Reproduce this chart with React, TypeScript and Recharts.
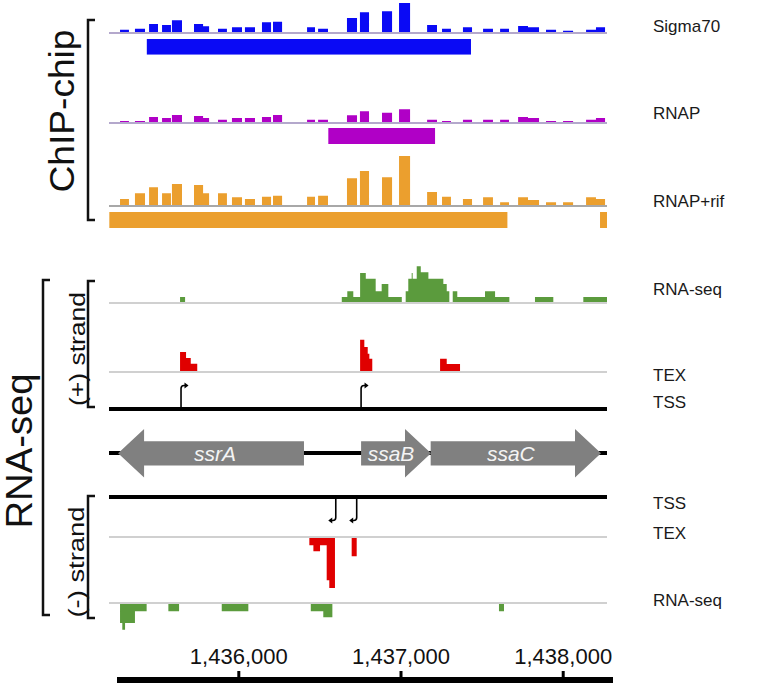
import React from 'react';
import {
  AreaChart,
  Area,
  XAxis,
  YAxis,
  ReferenceLine,
  ScatterChart,
  Scatter,
  BarChart,
  Bar,
  ComposedChart,
} from 'recharts';

const FONT = '"Liberation Sans", Arial, Helvetica, sans-serif';
const W = 757;
const H = 685;
const PLOT_LEFT = 109;
const PLOT_RIGHT = 607;
const VIEW: [number, number] = [1435200, 1438270];
const AXIS_LEFT = 117;
const AXIS_RIGHT = 613;
const AXIS_VIEW: [number, number] = [1435249, 1438307];

// ---- ChIP-chip probes (genomic start / end) ----
const probeStarts = [1435268, 1435360, 1435447, 1435527, 1435588, 1435724, 1435780, 1435872, 1435958, 1436038, 1436143, 1436211, 1436421, 1436489, 1436667, 1436747, 1436883, 1436988, 1437161, 1437253, 1437382, 1437506, 1437611, 1437722, 1437783, 1437894, 1437999, 1438141, 1438202];
const probeEnds = [1435323, 1435422, 1435502, 1435582, 1435650, 1435780, 1435817, 1435927, 1436020, 1436100, 1436199, 1436267, 1436470, 1436550, 1436729, 1436803, 1436945, 1437056, 1437222, 1437308, 1437438, 1437567, 1437666, 1437783, 1437851, 1437956, 1438061, 1438202, 1438258];
const sigma70Values = [3.3, 4.3, 9, 8, 12.7, 9, 6.7, 4.3, 5.7, 5.7, 10.7, 11.3, 5.7, 4.3, 15, 20.7, 21.7, 30, 8, 4.3, 5.7, 4.3, 4.3, 7, 5.7, 3.3, 2.3, 3.3, 5.7];
const rnapValues = [2, 2, 6, 5, 8, 7, 5, 3.3, 5, 5, 6, 8, 3.3, 3.3, 7.7, 11.7, 10.3, 13.7, 3.3, 2, 3.3, 3.3, 3.3, 6, 5, 2, 2, 3.3, 5];
const rnapRifValues = [7, 12.7, 18.7, 12.7, 22, 21, 12.7, 12.7, 8.7, 7, 9.3, 10.3, 9.3, 10.3, 27.7, 35, 28.7, 50, 14, 9.3, 7, 8.7, 3.7, 8.7, 6, 3.7, 3.7, 8.7, 7];

// ---- ChIP-chip enriched regions ----
const sigma70PeakStarts = [1435432];
const sigma70PeakEnds = [1437432];
const rnapPeakStarts = [1436552];
const rnapPeakEnds = [1437210];
const rnapRifPeakStarts = [1435202, 1438227];
const rnapRifPeakEnds = [1437656, 1438270];

// ---- RNA-seq coverage (breakpoints, value holds until next breakpoint) ----
const rnaPlusPos = [1435638, 1435669, 1436635, 1436669, 1436706, 1436748, 1436783, 1436844, 1436881, 1436922, 1437005, 1437029, 1437045, 1437066, 1437072, 1437097, 1437122, 1437169, 1437261, 1437282, 1437298, 1437319, 1437347, 1437518, 1437580, 1437668, 1437826, 1437939, 1438124, 1438270];
const rnaPlusVal = [6, 0, 6, 11.7, 6, 30, 24.3, 11.7, 19, 6, 0, 11.7, 24.3, 30, 24.3, 36.7, 30.7, 24.3, 19, 11.7, 0, 11.7, 6, 11.7, 6, 0, 6, 0, 6, 0];
const texPlusPos = [1435638, 1435675, 1435704, 1435744, 1436748, 1436774, 1436795, 1436805, 1436823, 1437241, 1437282, 1437364];
const texPlusVal = [20, 14, 8.3, 0, 32.3, 25, 18.3, 13.3, 0, 13.3, 8, 0];
const texMinusPos = [1436435, 1436460, 1436501, 1436542, 1436558, 1436593, 1436696, 1436727];
const texMinusVal = [-8.3, -14.3, -8.3, -43.3, -51, 0, -19.3, 0];
const rnaMinusPos = [1435268, 1435282, 1435299, 1435360, 1435432, 1435566, 1435632, 1435895, 1436059, 1436444, 1436521, 1436577, 1437604, 1437635];
const rnaMinusVal = [-20, -26.7, -20, -8.3, 0, -8.3, 0, -8.3, 0, -8.3, -14.3, 0, -8.3, 0];

// ---- TSS ----
const tssPlus = [1435644, 1436754];
const tssMinus = [1436598, 1436727];

// ---- Genes ----
const geneNames = ['ssrA', 'ssaB', 'ssaC'];
const geneStarts = [1435256, 1436754, 1437183];
const geneEnds = [1436402, 1437185, 1438233];
const geneStrands = ['-', '+', '+'];

// ---- Axis ----
const axisTicks = [1436000, 1437000, 1438000];

type Row = { x: number; y: number };

const stepRows = (pos: number[], val: number[]): Row[] => pos.map((p, i) => ({ x: p, y: val[i] }));

const probeRows = (values: number[]): Row[] => {
  const rows: Row[] = [];
  probeStarts.forEach((s, i) => {
    rows.push({ x: s, y: values[i] });
    const e = probeEnds[i];
    if (i === probeStarts.length - 1 || probeStarts[i + 1] !== e) rows.push({ x: e, y: 0 });
  });
  return rows;
};

const intervalRows = (starts: number[], ends: number[]): Row[] => {
  const rows: Row[] = [];
  starts.forEach((s, i) => {
    rows.push({ x: s, y: 1 });
    rows.push({ x: ends[i], y: 0 });
  });
  return rows;
};

const margin = { left: PLOT_LEFT, right: W - PLOT_RIGHT, top: 0, bottom: 0 };

function StepTrack(props: {
  rows: Row[];
  top: number;
  height: number;
  domain: [number, number];
  color: string;
  lineColor?: string;
  lineWidth?: number;
}) {
  const { rows, top, height, domain, color, lineColor, lineWidth = 2 } = props;
  return (
    <div style={{ position: 'absolute', left: 0, top, width: W, height }}>
      <AreaChart width={W} height={height} data={rows} margin={margin}>
        <XAxis dataKey="x" type="number" domain={VIEW} allowDataOverflow hide />
        <YAxis type="number" domain={domain} allowDataOverflow hide />
        {lineColor ? <ReferenceLine y={0} stroke={lineColor} strokeWidth={lineWidth} /> : null}
        <Area
          type="stepAfter"
          dataKey="y"
          stroke="none"
          fill={color}
          fillOpacity={1}
          baseValue={0}
          dot={false}
          activeDot={false}
          isAnimationActive={false}
        />
      </AreaChart>
    </div>
  );
}

// Baseline-anchored track: base pixel, extent above / below
const bt = (base: number, above: number, below: number) => ({
  top: base - above,
  height: above + below,
  domain: [-below, above] as [number, number],
});

const TssPlusMark = (p: any) => {
  const { cx, cy } = p;
  return (
    <g>
      <path d={`M${cx},${cy} V${cy - 20.5} Q${cx},${cy - 23.5} ${cx + 3},${cy - 23.5} H${cx + 4}`} stroke="#000" strokeWidth={1.6} fill="none" />
      <path d={`M${cx + 7.5},${cy - 23.5} L${cx + 3.5},${cy - 26.5} L${cx + 3.5},${cy - 20.5} Z`} fill="#000" />
    </g>
  );
};

const TssMinusMark = (p: any) => {
  const { cx, cy } = p;
  return (
    <g>
      <path d={`M${cx},${cy} V${cy + 20.5} Q${cx},${cy + 23.5} ${cx - 3},${cy + 23.5} H${cx - 4}`} stroke="#000" strokeWidth={1.6} fill="none" />
      <path d={`M${cx - 7.5},${cy + 23.5} L${cx - 3.5},${cy + 20.5} L${cx - 3.5},${cy + 26.5} Z`} fill="#000" />
    </g>
  );
};

function TssTrack(props: { positions: number[]; base: number; above: number; below: number; mark: any }) {
  const { positions, base, above, below, mark } = props;
  const g = bt(base, above, below);
  const rows = positions.map((x) => ({ x, y: 0 }));
  return (
    <div style={{ position: 'absolute', left: 0, top: g.top, width: W, height: g.height }}>
      <ScatterChart width={W} height={g.height} margin={margin}>
        <XAxis dataKey="x" type="number" domain={VIEW} allowDataOverflow hide />
        <YAxis dataKey="y" type="number" domain={g.domain} allowDataOverflow hide />
        <ReferenceLine y={0} stroke="#000" strokeWidth={4} />
        <Scatter data={rows} shape={mark} isAnimationActive={false} />
      </ScatterChart>
    </div>
  );
}

const GeneArrow = (p: any) => {
  const { x, y, width, height, payload } = p;
  const head = 26;
  const cy = y + height / 2;
  const bh = height / 4;
  let pts: number[][];
  let lx: number;
  if (payload.strand === '+') {
    const hb = x + width - head;
    pts = [[x, cy - bh], [hb, cy - bh], [hb, y], [x + width, cy], [hb, y + height], [hb, cy + bh], [x, cy + bh]];
    lx = x + width / 2 - 5;
  } else {
    const hb = x + head;
    pts = [[x + width, cy - bh], [hb, cy - bh], [hb, y], [x, cy], [hb, y + height], [hb, cy + bh], [x + width, cy + bh]];
    lx = x + width / 2 + 4;
  }
  return (
    <g>
      <polygon points={pts.map((q) => q.join(',')).join(' ')} fill="#808080" />
      <text x={lx} y={cy} textAnchor="middle" dominantBaseline="central" fontFamily={FONT} fontStyle="italic" fontSize={21} fill="#f4f4f4">
        {payload.name}
      </text>
    </g>
  );
};

const geneRows = geneNames.map((name, i) => ({
  lane: 'genes',
  name,
  strand: geneStrands[i],
  span: [geneStarts[i], geneEnds[i]],
}));

const rightLabels = [
  { text: 'Sigma70', y: 26 },
  { text: 'RNAP', y: 113 },
  { text: 'RNAP+rif', y: 201 },
  { text: 'RNA-seq', y: 289 },
  { text: 'TEX', y: 375 },
  { text: 'TSS', y: 402 },
  { text: 'TSS', y: 503 },
  { text: 'TEX', y: 533 },
  { text: 'RNA-seq', y: 600 },
];

const Bracket = ({ x, y1, y2 }: { x: number; y1: number; y2: number }) => (
  <path d={`M${x + 7},${y1} H${x} V${y2} H${x + 7}`} stroke="#111" strokeWidth={2.5} fill="none" />
);

const RotText = (p: { x: number; y: number; size: number; len: number; text: string }) => (
  <text
    transform={`translate(${p.x},${p.y}) rotate(-90)`}
    textAnchor="middle"
    dominantBaseline="central"
    fontFamily={FONT}
    fontSize={p.size}
    textLength={p.len}
    lengthAdjust="spacingAndGlyphs"
    fill="#111"
  >
    {p.text}
  </text>
);

export default function App() {
  const sig = bt(33.3, 32, 2);
  const rnap = bt(122.7, 16, 2);
  const rif = bt(206, 52, 2);
  const rnaP = bt(303.3, 40, 2);
  const texP = bt(372.3, 35, 2);
  const texM = bt(536.7, 2, 55);
  const rnaM = bt(603.3, 2, 30);
  const backbone = bt(453, 4, 4);
  return (
    <div style={{ position: 'absolute', left: 0, top: 0, width: W, height: H, background: '#fff', fontFamily: FONT }}>
      {/* ChIP-chip */}
      <StepTrack rows={probeRows(sigma70Values)} {...sig} color="#0a0af5" lineColor="#b4a8cc" />
      <StepTrack rows={intervalRows(sigma70PeakStarts, sigma70PeakEnds)} top={39.3} height={15.7} domain={[0, 1]} color="#0a0af5" />
      <StepTrack rows={probeRows(rnapValues)} {...rnap} color="#b000c6" lineColor="#b4a8cc" />
      <StepTrack rows={intervalRows(rnapPeakStarts, rnapPeakEnds)} top={128.3} height={16} domain={[0, 1]} color="#b000c6" />
      <StepTrack rows={probeRows(rnapRifValues)} {...rif} color="#eb9f2e" lineColor="#a8a8a8" />
      <StepTrack rows={intervalRows(rnapRifPeakStarts, rnapRifPeakEnds)} top={211.7} height={16} domain={[0, 1]} color="#eb9f2e" />

      {/* RNA-seq (+) */}
      <StepTrack rows={stepRows(rnaPlusPos, rnaPlusVal)} {...rnaP} color="#5b9b3d" lineColor="#d0d0d0" />
      <StepTrack rows={stepRows(texPlusPos, texPlusVal)} {...texP} color="#e00000" lineColor="#d0d0d0" />
      <TssTrack positions={tssPlus} base={408.5} above={28} below={4} mark={TssPlusMark} />

      {/* genes */}
      <div style={{ position: 'absolute', left: 0, top: backbone.top, width: W, height: backbone.height }}>
        <ComposedChart width={W} height={backbone.height} data={[{ x: VIEW[0], y: 0 }]} margin={margin}>
          <XAxis dataKey="x" type="number" domain={VIEW} allowDataOverflow hide />
          <YAxis type="number" domain={backbone.domain} allowDataOverflow hide />
          <ReferenceLine y={0} stroke="#000" strokeWidth={4} />
        </ComposedChart>
      </div>
      {geneRows.map((row) => (
        <div key={row.name} style={{ position: 'absolute', left: 0, top: 426, width: W, height: 54 }}>
          <BarChart width={W} height={54} data={[row]} layout="vertical" margin={margin} barCategoryGap={0} barGap={0}>
            <XAxis type="number" domain={VIEW} allowDataOverflow hide />
            <YAxis type="category" dataKey="lane" hide />
            <Bar dataKey="span" barSize={54} shape={GeneArrow} isAnimationActive={false} />
          </BarChart>
        </div>
      ))}

      {/* RNA-seq (-) */}
      <TssTrack positions={tssMinus} base={496.5} above={4} below={28} mark={TssMinusMark} />
      <StepTrack rows={stepRows(texMinusPos, texMinusVal)} {...texM} color="#e00000" lineColor="#d0d0d0" />
      <StepTrack rows={stepRows(rnaMinusPos, rnaMinusVal)} {...rnaM} color="#5b9b3d" lineColor="#d0d0d0" />

      {/* genomic axis */}
      <div style={{ position: 'absolute', left: 0, top: 635, width: W, height: 50 }}>
        <ComposedChart
          width={W}
          height={50}
          data={axisTicks.map((t) => ({ x: t, y: 0 }))}
          margin={{ left: AXIS_LEFT, right: W - AXIS_RIGHT, top: 0, bottom: 0 }}
        >
          <XAxis
            dataKey="x"
            type="number"
            orientation="top"
            domain={AXIS_VIEW}
            allowDataOverflow
            ticks={axisTicks}
            interval={0}
            height={45}
            tickSize={9}
            tickMargin={7}
            axisLine={{ stroke: '#000', strokeWidth: 6 }}
            tickLine={{ stroke: '#000', strokeWidth: 3 }}
            tick={{ fontSize: 22, fill: '#111', fontFamily: FONT }}
            tickFormatter={(v: number) => v.toLocaleString('en-US')}
          />
          <YAxis type="number" domain={[0, 1]} hide />
        </ComposedChart>
      </div>

      {/* annotation overlay */}
      <svg width={W} height={H} style={{ position: 'absolute', left: 0, top: 0, pointerEvents: 'none' }}>
        <Bracket x={88} y1={20} y2={220} />
        <Bracket x={43} y1={280} y2={615} />
        <Bracket x={88} y1={281} y2={407} />
        <Bracket x={88} y1={496} y2={618} />
        <RotText x={61} y={111} size={35} len={163} text="ChIP-chip" />
        <RotText x={19} y={451} size={36} len={155} text="RNA-seq" />
        <RotText x={77} y={349} size={22} len={114} text="(+) strand" />
        <RotText x={76} y={562} size={22} len={111} text="(-) strand" />
        {rightLabels.map((l, i) => (
          <text key={i} x={653} y={l.y} dominantBaseline="central" fontFamily={FONT} fontSize={17} fill="#1a1a1a">
            {l.text}
          </text>
        ))}
      </svg>
    </div>
  );
}
